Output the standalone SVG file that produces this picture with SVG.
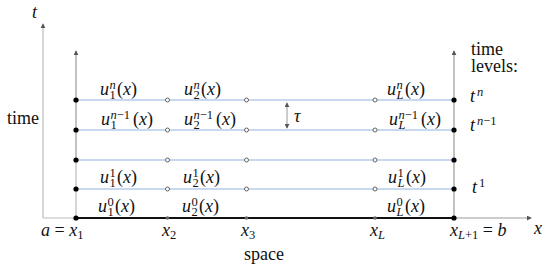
<svg xmlns="http://www.w3.org/2000/svg" width="550" height="272" viewBox="0 0 550 272">
<style>
text{font-family:"Liberation Serif","DejaVu Serif",serif;fill:#111}
.m{font-size:18px;font-style:italic}
.s{font-size:12.5px}
.r{font-size:18px}
.n{font-style:normal}
.i{font-style:italic}
.ax{stroke:#bbb;stroke-width:1.2;fill:none}
.bd{stroke:#999;stroke-width:1.2;fill:none}
.lv{stroke:#b5cbea;stroke-width:1.3}
.fd{fill:#000}
.od{fill:#fff;stroke:#555;stroke-width:0.9}
.gd{fill:#666}
</style>
<defs>
<marker id="ah" viewBox="0 0 6 6" refX="5" refY="3" markerWidth="5" markerHeight="5" orient="auto-start-reverse" markerUnits="userSpaceOnUse">
<path d="M0,0 L6,3 L0,6 z" fill="#555"/>
</marker>
</defs>
<g id="connectors">
<line class="ax" x1="43" y1="218" x2="43" y2="24" marker-end="url(#ah)"/>
<line class="ax" x1="43" y1="218" x2="76" y2="218"/>
<line class="bd" x1="454" y1="218" x2="531" y2="218" marker-end="url(#ah)"/>
<line class="ax" x1="76" y1="218" x2="76" y2="160"/>
<line class="bd" x1="76" y1="160" x2="76" y2="51" marker-end="url(#ah)"/>
<line class="bd" x1="454" y1="218" x2="454" y2="51" marker-end="url(#ah)"/>
<line class="lv" x1="76" y1="100" x2="454" y2="100"/>
<line class="lv" x1="76" y1="130" x2="454" y2="130"/>
<line class="lv" x1="76" y1="160" x2="454" y2="160"/>
<line class="lv" x1="76" y1="189" x2="454" y2="189"/>
<line x1="76" y1="218" x2="454" y2="218" stroke="#111" stroke-width="2"/>
<line x1="287" y1="103" x2="287" y2="128" stroke="#999" stroke-width="1" marker-start="url(#ah)" marker-end="url(#ah)"/>
</g>
<g id="points">
<circle class="fd" cx="76" cy="100" r="2.6"/><circle class="fd" cx="76" cy="130" r="2.6"/><circle class="fd" cx="76" cy="160" r="2.6"/><circle class="fd" cx="76" cy="189" r="2.6"/><circle class="fd" cx="76" cy="218" r="2.6"/>
<circle class="fd" cx="454" cy="100" r="2.6"/><circle class="fd" cx="454" cy="130" r="2.6"/><circle class="fd" cx="454" cy="160" r="2.6"/><circle class="fd" cx="454" cy="189" r="2.6"/><circle class="fd" cx="454" cy="218" r="2.6"/>
<circle class="od" cx="167.5" cy="100" r="2"/><circle class="od" cx="246.5" cy="100" r="2"/><circle class="od" cx="375" cy="100" r="2"/>
<circle class="od" cx="167.5" cy="130" r="2"/><circle class="od" cx="246.5" cy="130" r="2"/><circle class="od" cx="375" cy="130" r="2"/>
<circle class="od" cx="167.5" cy="160" r="2"/><circle class="od" cx="246.5" cy="160" r="2"/><circle class="od" cx="375" cy="160" r="2"/>
<circle class="od" cx="167.5" cy="189" r="2"/><circle class="od" cx="246.5" cy="189" r="2"/><circle class="od" cx="375" cy="189" r="2"/>
<circle class="gd" cx="167.5" cy="218" r="1.8"/><circle class="gd" cx="246.5" cy="218" r="1.8"/><circle class="gd" cx="375" cy="218" r="1.8"/>
</g>
<g id="axis-labels">
<text class="m" x="32" y="18">t</text>
<text class="r" x="7" y="124">time</text>
<text class="r" x="244" y="260">space</text>
<text class="m" x="534" y="234">x</text>
<text class="m" x="41" y="236">a <tspan class="n">=</tspan> x<tspan class="s n" dy="3">1</tspan></text>
<text class="m" x="162" y="236">x<tspan class="s n" dy="3">2</tspan></text>
<text class="m" x="241" y="236">x<tspan class="s n" dy="3">3</tspan></text>
<text class="m" x="370" y="236">x<tspan class="s" dy="3">L</tspan></text>
<text class="m" x="450" y="236">x<tspan class="s" dy="3">L<tspan class="n">+1</tspan></tspan><tspan class="n" dy="-3"> =</tspan> b</text>
<text class="r" x="471" y="55">time</text>
<text class="r" x="471" y="72">levels:</text>
<text class="m" x="470" y="102">t<tspan class="s" x="477" y="96">n</tspan></text>
<text class="m" x="470" y="131">t<tspan class="s" x="477" y="125">n<tspan class="n">−1</tspan></tspan></text>
<text class="m" x="472" y="193">t<tspan class="s n" x="479" y="187">1</tspan></text>
<text class="m" x="294" y="122">τ</text>
</g>
<g id="row-n">
<text class="m" x="100" y="95">u<tspan class="s" x="109.5" y="89">n</tspan><tspan class="s n" x="109.5" y="98.5">1</tspan><tspan class="n" x="117" y="95">(</tspan>x<tspan class="n">)</tspan></text>
<text class="m" x="184" y="95">u<tspan class="s" x="193.5" y="89">n</tspan><tspan class="s n" x="193.5" y="98.5">2</tspan><tspan class="n" x="201" y="95">(</tspan>x<tspan class="n">)</tspan></text>
<text class="m" x="387" y="95">u<tspan class="s" x="396.5" y="89">n</tspan><tspan class="s" x="396.5" y="98.5">L</tspan><tspan class="n" x="405" y="95">(</tspan>x<tspan class="n">)</tspan></text>
</g>
<g id="row-n-1">
<text class="m" x="101" y="125">u<tspan class="s" x="110.5" y="119">n<tspan class="n">−1</tspan></tspan><tspan class="s n" x="110.5" y="128.5">1</tspan><tspan class="n" x="133" y="125">(</tspan>x<tspan class="n">)</tspan></text>
<text class="m" x="184" y="125">u<tspan class="s" x="193.5" y="119">n<tspan class="n">−1</tspan></tspan><tspan class="s n" x="193.5" y="128.5">2</tspan><tspan class="n" x="216" y="125">(</tspan>x<tspan class="n">)</tspan></text>
<text class="m" x="389" y="125">u<tspan class="s" x="398.5" y="119">n<tspan class="n">−1</tspan></tspan><tspan class="s" x="398.5" y="128.5">L</tspan><tspan class="n" x="421" y="125">(</tspan>x<tspan class="n">)</tspan></text>
</g>
<g id="row-1">
<text class="m" x="100" y="183">u<tspan class="s n" x="109.5" y="177">1</tspan><tspan class="s n" x="109.5" y="186.5">1</tspan><tspan class="n" x="117" y="183">(</tspan>x<tspan class="n">)</tspan></text>
<text class="m" x="183" y="183">u<tspan class="s n" x="192.5" y="177">1</tspan><tspan class="s n" x="192.5" y="186.5">2</tspan><tspan class="n" x="200" y="183">(</tspan>x<tspan class="n">)</tspan></text>
<text class="m" x="388" y="183">u<tspan class="s n" x="397.5" y="177">1</tspan><tspan class="s" x="397.5" y="186.5">L</tspan><tspan class="n" x="406" y="183">(</tspan>x<tspan class="n">)</tspan></text>
</g>
<g id="row-0">
<text class="m" x="98" y="212">u<tspan class="s n" x="107.5" y="206">0</tspan><tspan class="s n" x="107.5" y="215.5">1</tspan><tspan class="n" x="115" y="212">(</tspan>x<tspan class="n">)</tspan></text>
<text class="m" x="182" y="212">u<tspan class="s n" x="191.5" y="206">0</tspan><tspan class="s n" x="191.5" y="215.5">2</tspan><tspan class="n" x="199" y="212">(</tspan>x<tspan class="n">)</tspan></text>
<text class="m" x="387" y="212">u<tspan class="s n" x="396.5" y="206">0</tspan><tspan class="s" x="396.5" y="215.5">L</tspan><tspan class="n" x="405" y="212">(</tspan>x<tspan class="n">)</tspan></text>
</g>
</svg>
